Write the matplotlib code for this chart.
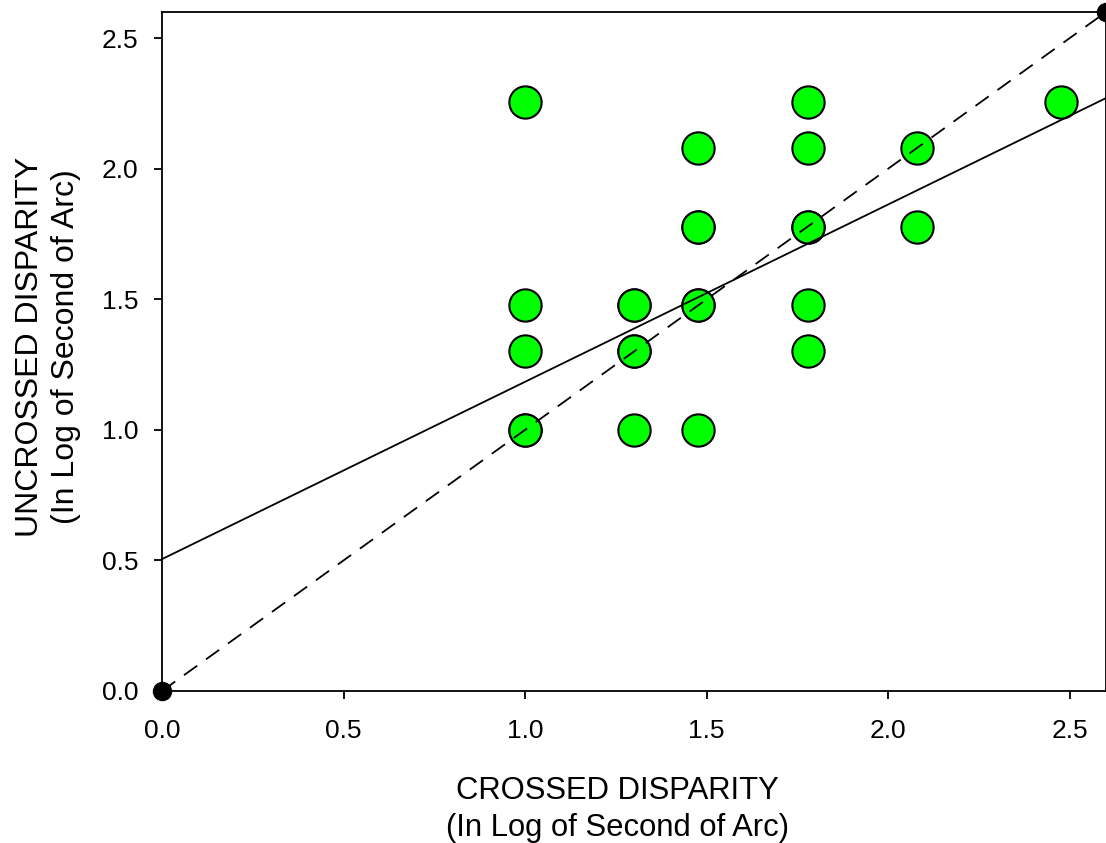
import matplotlib
matplotlib.use("Agg")
import matplotlib.pyplot as plt
import numpy as np

plt.rcParams['font.family'] = ['Liberation Sans', 'DejaVu Sans']

# Data (log10 of seconds of arc)
crossed = [1.0, 1.0, 1.0, 1.0, 1.0,
           1.301, 1.301, 1.301, 1.301, 1.301,
           1.477, 1.477, 1.477, 1.477, 1.477, 1.477,
           1.778, 1.778, 1.778, 1.778, 1.778, 1.778,
           2.079, 2.079,
           2.477]
uncrossed = [2.255, 1.477, 1.301, 1.0, 1.0,
             1.477, 1.477, 1.301, 1.301, 1.0,
             2.079, 1.778, 1.778, 1.477, 1.477, 1.0,
             2.255, 2.079, 1.778, 1.778, 1.477, 1.301,
             2.079, 1.778,
             2.255]
reg_intercept = 0.505
reg_slope = 0.679
identity_ends = [0.0, 2.6]
ticks = [0.0, 0.5, 1.0, 1.5, 2.0, 2.5]
tick_labels = ["0.0", "0.5", "1.0", "1.5", "2.0", "2.5"]

W, H = 1106, 843
fig = plt.figure(figsize=(W/100, H/100), dpi=100)
ax = fig.add_axes([162/W, 152/H, (1106-162)/W, (691-12)/H])

ax.scatter(crossed, uncrossed, s=540, c='#00ff00', edgecolors='black',
           linewidths=1.5, zorder=2, clip_on=False)

xr = np.array(identity_ends)
ax.plot(xr, reg_intercept + reg_slope * xr, color='black', lw=1.3, zorder=3, clip_on=False)
ax.plot(xr, xr, color='black', lw=1.3, ls=(0, (9, 6)), zorder=3, clip_on=False)
ax.plot(identity_ends, identity_ends, 'o', color='black', ms=13, zorder=4, clip_on=False)

ax.set_xlim(0, 2.6)
ax.set_ylim(0, 2.6)
ax.set_xticks(ticks)
ax.set_xticklabels(tick_labels)
ax.set_yticks(ticks)
ax.set_yticklabels(tick_labels)
ax.tick_params(axis='both', direction='out', length=6, width=1.3, labelsize=19,
               top=False, right=False)
ax.tick_params(axis='x', pad=14)
ax.tick_params(axis='y', pad=11)
for sp in ax.spines.values():
    sp.set_linewidth(1.3)

ax.set_xlabel("CROSSED DISPARITY\n(In Log of Second of Arc)", fontsize=22.3,
              linespacing=1.3)
ax.set_ylabel("UNCROSSED DISPARITY\n(In Log of Second of Arc)", fontsize=23,
              linespacing=1.27)
ax.xaxis.set_label_coords((617-162)/(1106-162), (691-776)/(691-12))
ax.yaxis.set_label_coords((81-162)/(1106-162), (691-347)/(691-12))

fig.savefig("out.png", dpi=100)
